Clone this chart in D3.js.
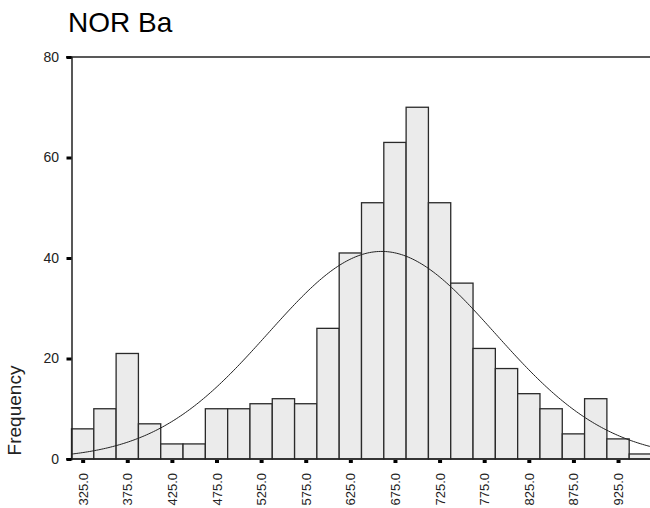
<!DOCTYPE html>
<html>
<head>
<meta charset="utf-8">
<script src="https://cdn.jsdelivr.net/npm/d3@7"></script>
<style>
  html, body { margin: 0; padding: 0; background: #fff; }
  svg { display: block; font-family: "Liberation Sans", Arial, sans-serif; }
</style>
</head>
<body>
<svg id="chart" width="650" height="508"></svg>
<script>
// Histogram bins (centre of each 25-unit bin) and their frequencies
const binCenters = [325, 350, 375, 400, 425, 450, 475, 500, 525, 550, 575, 600, 625,
                    650, 675, 700, 725, 750, 775, 800, 825, 850, 875, 900, 925, 950];
const frequencies = [6, 10, 21, 7, 3, 3, 10, 10, 11, 12, 11, 26, 41,
                     51, 63, 70, 51, 35, 22, 18, 13, 10, 5, 12, 4, 1];
const binWidth = 25;

// Axis ticks
const xTickValues = [325, 375, 425, 475, 525, 575, 625, 675, 725, 775, 825, 875, 925];
const yTickValues = [0, 20, 40, 60, 80];

// Fitted normal curve parameters
const curveMean = 660;
const curveSd = 127;

const title = "NOR Ba";
const yTitle = "Frequency";

const svg = d3.select("#chart");
const plotLeft = 71.5, plotTop = 57, plotBottom = 459;

const x = d3.scaleLinear()
  .domain([binCenters[0] - binWidth / 2, binCenters[binCenters.length - 1] + binWidth / 2])
  .range([plotLeft, 651.5]);
const y = d3.scaleLinear().domain([0, 80]).range([plotBottom, plotTop]);

// Title
svg.append("text")
  .attr("x", 68).attr("y", 32)
  .attr("font-size", 28)
  .attr("fill", "#000")
  .text(title);

// Y axis title
svg.append("text")
  .attr("transform", "translate(21,410.5) rotate(-90)")
  .attr("text-anchor", "middle")
  .attr("font-size", 19)
  .attr("fill", "#222")
  .text(yTitle);

// Bars
const data = binCenters.map((c, i) => ({ c, v: frequencies[i] }));
svg.append("g").selectAll("rect")
  .data(data)
  .join("rect")
  .attr("x", d => x(d.c - binWidth / 2))
  .attr("y", d => y(d.v))
  .attr("width", d => x(d.c + binWidth / 2) - x(d.c - binWidth / 2))
  .attr("height", d => y(0) - y(d.v))
  .attr("fill", "#ebebeb")
  .attr("stroke", "#2a2a2a")
  .attr("stroke-width", 1.3);

// Normal curve scaled to counts
const n = d3.sum(frequencies);
const density = v => n * binWidth / (curveSd * Math.sqrt(2 * Math.PI)) *
  Math.exp(-((v - curveMean) ** 2) / (2 * curveSd * curveSd));
const curvePts = d3.range(x.domain()[0], x.domain()[1] + 0.5, 2);
svg.append("path")
  .datum(curvePts)
  .attr("fill", "none")
  .attr("stroke", "#222")
  .attr("stroke-width", 1)
  .attr("d", d3.line().x(v => x(v)).y(v => y(density(v))));

// Frame lines: top and baseline
svg.append("line").attr("x1", 66).attr("x2", 650).attr("y1", plotTop).attr("y2", plotTop)
  .attr("stroke", "#222").attr("stroke-width", 1.5);
svg.append("line").attr("x1", 66).attr("x2", 650).attr("y1", plotBottom).attr("y2", plotBottom)
  .attr("stroke", "#222").attr("stroke-width", 1.5);

// Y axis
const yAxis = svg.append("g")
  .attr("transform", `translate(${plotLeft},0)`)
  .call(d3.axisLeft(y).tickValues(yTickValues).tickSize(5).tickPadding(7.5).tickFormat(d3.format("d")));
yAxis.select(".domain").attr("stroke", "#222").attr("stroke-width", 1.5);
yAxis.selectAll(".tick line").attr("stroke", "#000").attr("stroke-width", 3);
yAxis.selectAll(".tick text").attr("font-size", 14).attr("fill", "#222")
  .attr("font-family", "Liberation Sans, Arial, sans-serif");

// X axis
const xAxis = svg.append("g")
  .attr("transform", `translate(0,${plotBottom})`)
  .call(d3.axisBottom(x).tickValues(xTickValues).tickSize(4).tickPadding(8).tickFormat(d3.format(".1f")));
xAxis.select(".domain").remove();
xAxis.selectAll(".tick line").attr("stroke", "#000").attr("stroke-width", 4)
  .attr("y1", 1);
xAxis.selectAll(".tick text")
  .attr("font-size", 13).attr("fill", "#222")
  .attr("font-family", "Liberation Sans, Arial, sans-serif")
  .attr("text-anchor", "end")
  .attr("transform", "rotate(-90)")
  .attr("x", -14).attr("y", 0).attr("dy", "0.35em");
</script>
</body>
</html>
